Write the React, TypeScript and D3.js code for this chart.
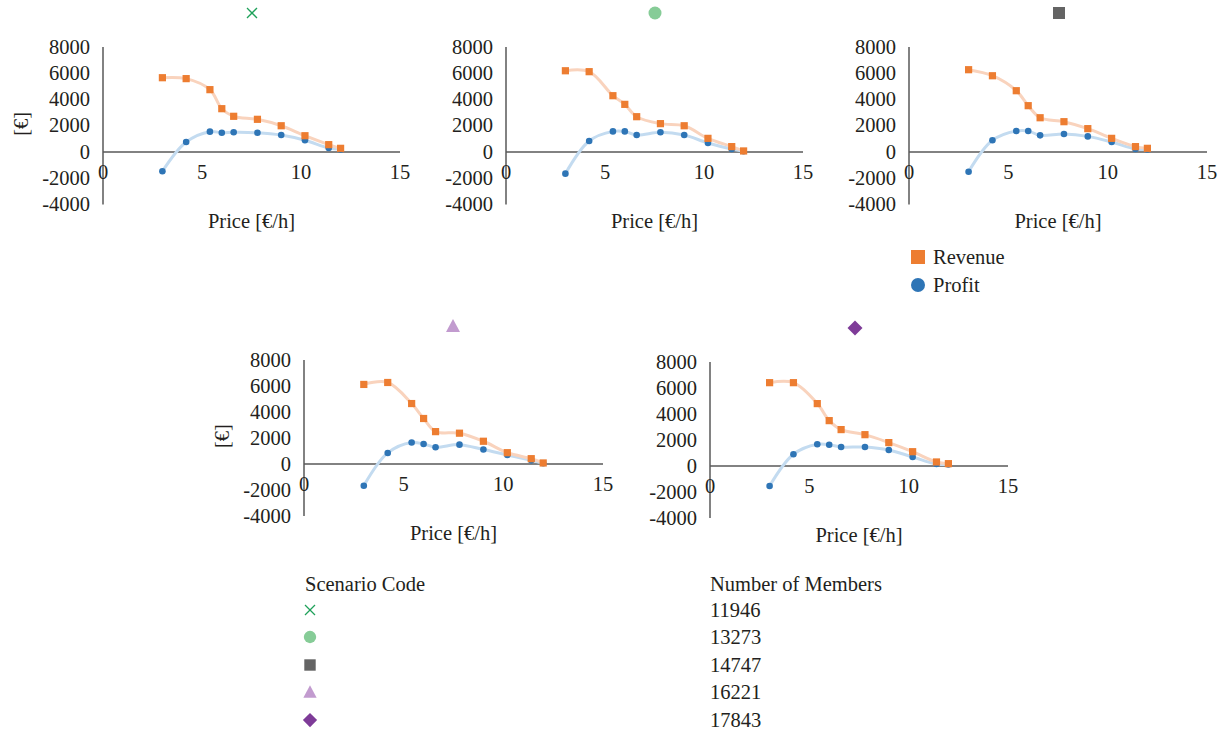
import React from "react";
import * as d3 from "d3";

const prices = [3, 4.2, 5.4, 6, 6.6, 7.8, 9, 10.2, 11.4, 12];

const revenueA = [5660, 5590, 4750, 3300, 2720, 2490, 2000, 1240, 560, 280];
const profitA = [-1470, 760, 1550, 1470, 1500, 1470, 1290, 890, 300, 200];
const revenueB = [6190, 6120, 4290, 3630, 2690, 2160, 2000, 1040, 410, 80];
const profitB = [-1650, 840, 1570, 1570, 1290, 1500, 1290, 690, 230, 60];
const revenueC = [6270, 5810, 4670, 3530, 2610, 2310, 1780, 1040, 410, 280];
const profitC = [-1500, 890, 1600, 1600, 1270, 1370, 1190, 760, 230, 200];
const revenueD = [6120, 6270, 4650, 3500, 2490, 2370, 1750, 870, 410, 80];
const profitD = [-1670, 850, 1650, 1540, 1290, 1490, 1110, 690, 280, 60];
const revenueE = [6410, 6410, 4800, 3490, 2800, 2410, 1800, 1100, 310, 180];
const profitE = [-1540, 900, 1670, 1640, 1460, 1460, 1230, 690, 150, 120];

const revenueSeries = [revenueA, revenueB, revenueC, revenueD, revenueE];
const profitSeries = [profitA, profitB, profitC, profitD, profitE];

const scenarioSymbols = ["cross", "circle", "square", "triangle", "diamond"];
const scenarioColors = ["#1fa15a", "#86cc97", "#646464", "#c29bcf", "#7e3b98"];
const members = [11946, 13273, 14747, 16221, 17843];

const yTicks = [8000, 6000, 4000, 2000, 0, -2000, -4000];
const xTicks = [0, 5, 10, 15];

const FONT = "'Liberation Serif', 'Times New Roman', serif";
const FS = 20.5;
const TEXT = "#231f20";
const AXIS = "#595959";
const ORANGE = "#ed7d31";
const BLUE = "#2e75b6";
const ORANGE_LINE = "#f9d3bd";
const BLUE_LINE = "#c3dbf0";

const panels = [
  { x0: 103, x1: 400, yTop: 47, y0: 152, yLabel: true, mx: 252 },
  { x0: 506, x1: 803, yTop: 47, y0: 152, yLabel: false, mx: 655 },
  { x0: 909, x1: 1207, yTop: 47, y0: 152, yLabel: false, mx: 1059 },
  { x0: 304, x1: 603, yTop: 360, y0: 464, yLabel: true, mx: 453 },
  { x0: 710, x1: 1008, yTop: 362, y0: 466, yLabel: false, mx: 855 },
];

function Symbol({ type, x, y, color, s = 1 }) {
  if (type === "cross") {
    const d = 5 * s;
    return (
      <g stroke={color} strokeWidth={1.3}>
        <line x1={x - d} y1={y - d} x2={x + d} y2={y + d} />
        <line x1={x - d} y1={y + d} x2={x + d} y2={y - d} />
      </g>
    );
  }
  if (type === "circle") return <circle cx={x} cy={y} r={6.5 * s} fill={color} />;
  if (type === "square") {
    const h = 6 * s;
    return <rect x={x - h} y={y - h} width={2 * h} height={2 * h} fill={color} />;
  }
  if (type === "triangle") {
    const h = 7 * s;
    return <path d={`M${x},${y - h} L${x + h},${y + h * 0.85} L${x - h},${y + h * 0.85} Z`} fill={color} />;
  }
  const h = 7.5 * s;
  return <path d={`M${x},${y - h} L${x + h},${y} L${x},${y + h} L${x - h},${y} Z`} fill={color} />;
}

function Panel({ cfg, idx }) {
  const per1000 = (cfg.y0 - cfg.yTop) / 8;
  const yBottom = cfg.y0 + 4 * per1000;
  const x = d3.scaleLinear().domain([0, 15]).range([cfg.x0, cfg.x1]);
  const y = d3.scaleLinear().domain([-4000, 8000]).range([yBottom, cfg.yTop]);
  const line = d3
    .line<number>()
    .x((_, i) => x(prices[i]))
    .y((v) => y(v))
    .curve(d3.curveCatmullRom.alpha(0.5));
  const rev = revenueSeries[idx];
  const prof = profitSeries[idx];
  const cx = (cfg.x0 + cfg.x1) / 2;
  return (
    <g>
      <Symbol type={scenarioSymbols[idx]} x={cfg.mx} y={cfg.yTop - 34} color={scenarioColors[idx]} />
      <line x1={x(0)} x2={x(15)} y1={y(0)} y2={y(0)} stroke={AXIS} strokeWidth={1.5} />
      <line x1={x(0)} x2={x(0)} y1={y(8000)} y2={y(-4000)} stroke={AXIS} strokeWidth={1.5} />
      {yTicks.map((t) => (
        <text key={t} x={x(0) - 13} y={y(t) + 6.5} textAnchor="end" fontSize={FS} fontFamily={FONT} fill={TEXT}>
          {t}
        </text>
      ))}
      {xTicks.map((t) => (
        <text key={t} x={x(t)} y={y(0) + 27} textAnchor="middle" fontSize={FS} fontFamily={FONT} fill={TEXT}>
          {t}
        </text>
      ))}
      <text x={cx} y={y(0) + 76} textAnchor="middle" fontSize={FS} fontFamily={FONT} fill={TEXT}>
        Price [€/h]
      </text>
      {cfg.yLabel && (
        <text
          transform={`translate(${cfg.x0 - 75},${(y(8000) + y(-4000)) / 2 - 2}) rotate(-90)`}
          textAnchor="middle"
          fontSize={FS}
          fontFamily={FONT}
          fill={TEXT}
        >
          [€]
        </text>
      )}
      <path d={line(prof) || ""} fill="none" stroke={BLUE_LINE} strokeWidth={3} />
      <path d={line(rev) || ""} fill="none" stroke={ORANGE_LINE} strokeWidth={3} />
      {prof.map((v, i) => (
        <circle key={"p" + i} cx={x(prices[i])} cy={y(v)} r={3.3} fill={BLUE} />
      ))}
      {rev.map((v, i) => (
        <rect key={"r" + i} x={x(prices[i]) - 3.6} y={y(v) - 3.6} width={7.2} height={7.2} fill={ORANGE} />
      ))}
    </g>
  );
}

export default function App() {
  const rowY = [610, 637, 665, 692, 720];
  return (
    <svg width={1225} height={730} style={{ position: "absolute", left: 0, top: 0, background: "#fff" }}>
      <rect x={0} y={0} width={1225} height={730} fill="#fff" />
      {panels.map((p, i) => (
        <Panel key={i} cfg={p} idx={i} />
      ))}
      <rect x={911} y={250} width={14} height={14} fill={ORANGE} />
      <text x={933} y={264} fontSize={FS} fontFamily={FONT} fill={TEXT}>Revenue</text>
      <circle cx={918} cy={285} r={7} fill={BLUE} />
      <text x={933} y={292} fontSize={FS} fontFamily={FONT} fill={TEXT}>Profit</text>
      <text x={305} y={591} fontSize={FS} fontFamily={FONT} fill={TEXT}>Scenario Code</text>
      <text x={710} y={591} fontSize={FS} fontFamily={FONT} fill={TEXT}>Number of Members</text>
      {members.map((m, i) => (
        <g key={m}>
          <Symbol type={scenarioSymbols[i]} x={310} y={rowY[i]} color={scenarioColors[i]} s={i === 0 ? 1 : 0.95} />
          <text x={710} y={rowY[i] + 6.5} fontSize={FS} fontFamily={FONT} fill={TEXT}>{m}</text>
        </g>
      ))}
    </svg>
  );
}
